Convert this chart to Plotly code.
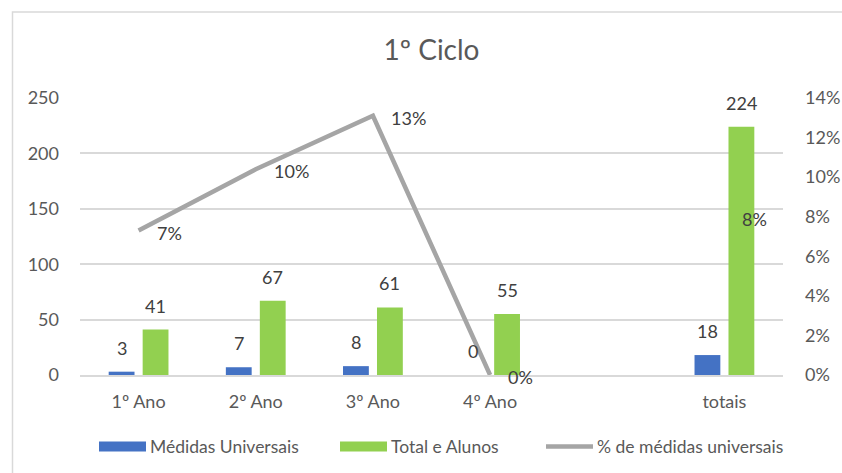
import plotly.graph_objects as go

# ---- data ----
categories = ["1º Ano", "2º Ano", "3º Ano", "4º Ano", " ", "totais"]
medidas_universais = [3, 7, 8, 0, None, 18]
total_alunos = [41, 67, 61, 55, None, 224]
pct_medidas = [0.073, 0.104, 0.131, 0.0, None, 0.080]

left_ticks = [0, 50, 100, 150, 200, 250]
right_ticks = [0, 0.02, 0.04, 0.06, 0.08, 0.10, 0.12, 0.14]

BLUE = "#4472C4"
GREEN = "#92D050"
GRAY = "#A5A5A5"
TXT = "#595959"
LBL = "#404040"
FONT = "Lato"

# plot area in pixels (for paper conversions)
PX0, PX1, PY0, PY1 = 80, 783, 98, 375
W, H = 842, 473


def px(x):
    return (x - PX0) / (PX1 - PX0)


def py(y):
    return (PY1 - y) / (PY1 - PY0)


fig = go.Figure()
fig.add_trace(go.Bar(x=categories, y=medidas_universais, name="Médidas Universais",
                     marker=dict(color=BLUE, line=dict(width=0)), yaxis="y"))
fig.add_trace(go.Bar(x=categories, y=total_alunos, name="Total e Alunos",
                     marker=dict(color=GREEN, line=dict(width=0)), yaxis="y"))
fig.add_trace(go.Scatter(x=categories, y=pct_medidas, name="% de médidas universais",
                         mode="lines", line=dict(color=GRAY, width=4.5),
                         connectgaps=False, yaxis="y2"))

annotations = []
# bar value labels
for cat, v in zip(categories, medidas_universais):
    if v is not None:
        annotations.append(dict(x=cat, y=v, xref="x", yref="y", text=str(v),
                                showarrow=False, xshift=-17, yshift=11, yanchor="bottom",
                                font=dict(family=FONT, size=18, color=LBL)))
for cat, v in zip(categories, total_alunos):
    if v is not None:
        annotations.append(dict(x=cat, y=v, xref="x", yref="y", text=str(v),
                                showarrow=False, xshift=17, yshift=11, yanchor="bottom",
                                font=dict(family=FONT, size=18, color=LBL)))
# line labels
for cat, p in zip(categories, pct_medidas):
    if p is not None:
        annotations.append(dict(x=cat, y=p, xref="x", yref="y2", text=f"{round(p*100)}%",
                                showarrow=False, xanchor="left", xshift=16, yshift=-2,
                                font=dict(family=FONT, size=18, color=LBL)))

# custom legend
leg_y = py(446.5)
legend_items = [
    ("rect", BLUE, 99, 146, "Médidas Universais"),
    ("rect", GREEN, 340, 387, "Total e Alunos"),
    ("line", GRAY, 546, 593, "% de médidas universais"),
]
shapes = []
for kind, col, x0, x1, label in legend_items:
    if kind == "rect":
        shapes.append(dict(type="rect", xref="paper", yref="paper",
                           x0=px(x0), x1=px(x1), y0=py(441.5), y1=py(451.5),
                           fillcolor=col, line=dict(width=0)))
    else:
        shapes.append(dict(type="line", xref="paper", yref="paper",
                           x0=px(x0), x1=px(x1), y0=leg_y, y1=leg_y,
                           line=dict(color=col, width=4.5)))
    annotations.append(dict(x=px(x1 + 2), y=leg_y, xref="paper", yref="paper",
                            text=label, showarrow=False, xanchor="left", yanchor="middle",
                            font=dict(family=FONT, size=17.5, color=TXT)))

# chart border
shapes.append(dict(type="rect", xref="paper", yref="paper",
                   x0=px(12.5), x1=px(860), y0=py(490), y1=py(12),
                   line=dict(color="#D9D9D9", width=1.5), fillcolor="rgba(0,0,0,0)", layer="below"))

fig.update_layout(
    width=W, height=H, autosize=False,
    margin=dict(l=PX0, r=W - PX1, t=PY0, b=H - PY1, pad=0, autoexpand=False),
    paper_bgcolor="white", plot_bgcolor="white",
    barmode="group", bargap=0.42, bargroupgap=0.24,
    showlegend=False,
    title=dict(text="1º Ciclo", x=0.5, xref="paper", xanchor="center",
               y=1 - 50 / H, yref="container", yanchor="middle",
               font=dict(family=FONT, size=28, color=TXT)),
    xaxis=dict(type="category", categoryorder="array", categoryarray=categories,
               showgrid=False, showline=True, linecolor="#D9D9D9", linewidth=1.5,
               ticks="", tickfont=dict(family=FONT, size=18, color=TXT),
               ticklabelstandoff=10, zeroline=False, automargin=False),
    yaxis=dict(range=[0, 250], tickvals=left_ticks, showgrid=True, gridcolor="#D9D9D9",
               gridwidth=1.5, zeroline=False, showline=False, ticks="",
               tickfont=dict(family=FONT, size=18, color=TXT), ticklabelstandoff=20,
               automargin=False),
    yaxis2=dict(range=[0, 0.14], tickvals=right_ticks, tickformat=".0%", overlaying="y",
                side="right", showgrid=False, zeroline=False, showline=False, ticks="",
                tickfont=dict(family=FONT, size=18, color=TXT), ticklabelstandoff=21,
                automargin=False),
    annotations=annotations,
    shapes=shapes,
    font=dict(family=FONT, color=TXT),
)

fig.write_html("out.html", config={"displayModeBar": False},
               post_script="document.body.style.margin='0';document.body.style.overflow='hidden';")
